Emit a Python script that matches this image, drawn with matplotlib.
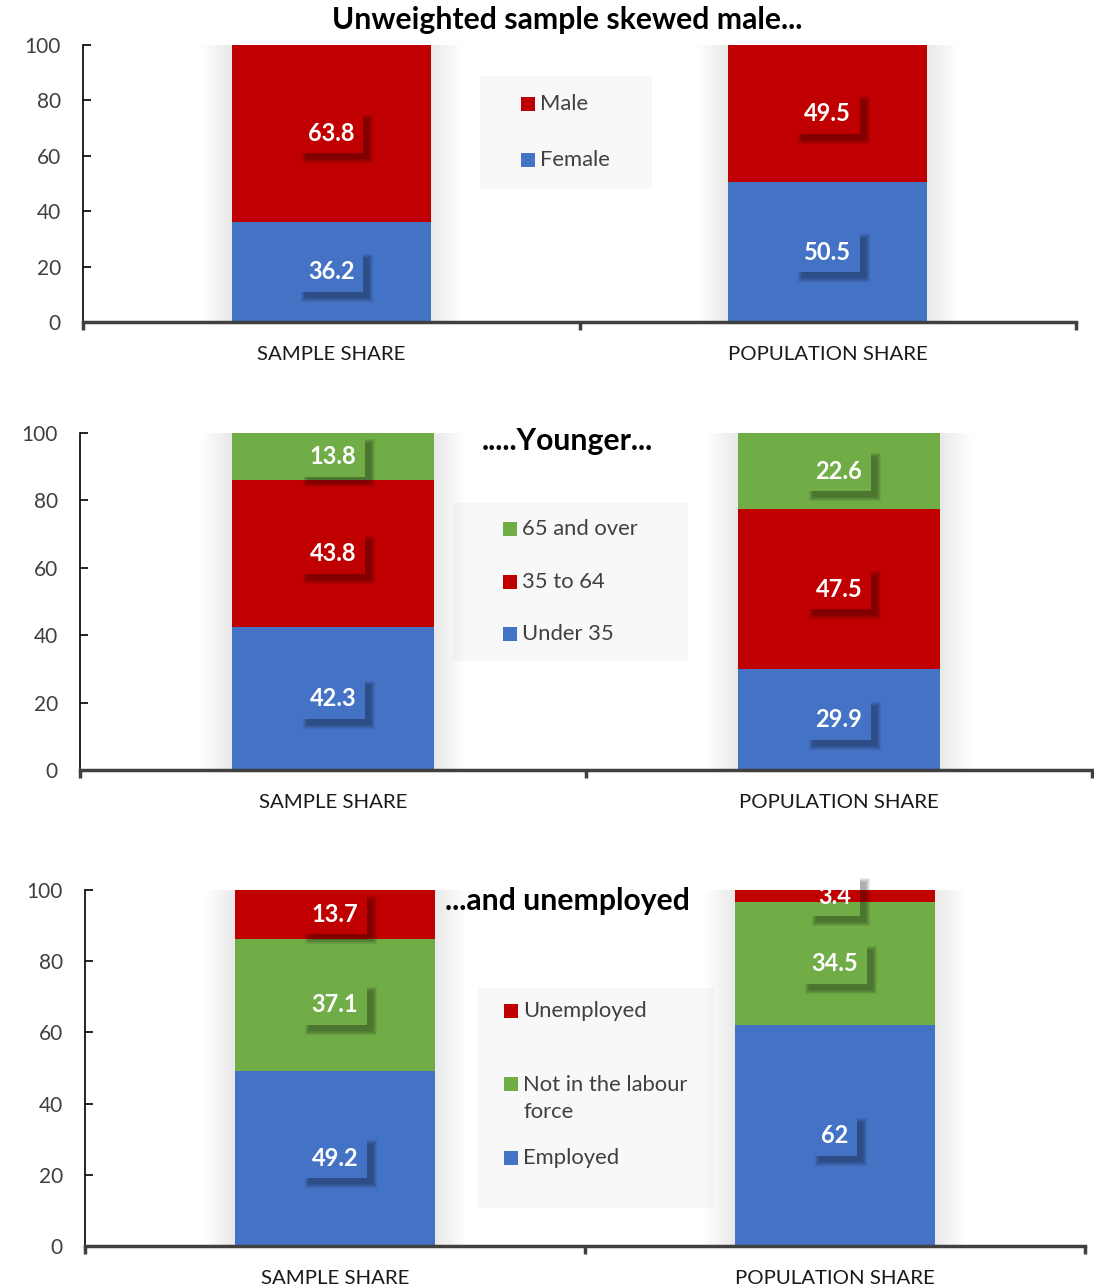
import numpy as np
import matplotlib.pyplot as plt
from matplotlib.patches import Rectangle, Polygon
from matplotlib.transforms import IdentityTransform

plt.rcParams['font.family'] = ['Lato', 'DejaVu Sans']

W, H = 1094, 1286
RED = '#C00000'
BLUE = '#4472C4'
GREEN = '#70AD47'

categories = ['SAMPLE SHARE', 'POPULATION SHARE']

# gender (bottom to top)
gender_names = ['Female', 'Male']
female = [36.2, 50.5]
male = [63.8, 49.5]

# age (bottom to top)
age_names = ['Under 35', '35 to 64', '65 and over']
under_35 = [42.3, 29.9]
age_35_64 = [43.8, 47.5]
age_65_over = [13.8, 22.6]

# labour force status (bottom to top)
labour_names = ['Employed', 'Not in the labour\nforce', 'Unemployed']
employed = [49.2, 62]
not_in_lf = [37.1, 34.5]
unemployed = [13.7, 3.4]

titles = ['Unweighted sample skewed male...', '.....Younger...', '...and unemployed']
yticks = [0, 20, 40, 60, 80, 100]

labels = []


def fx(x):
    return x / W


def fy(y):
    return 1 - y / H


def make_axes(fig, left, right, top, bottom):
    ax = fig.add_axes([fx(left), fy(bottom), (right - left) / W, (bottom - top) / H])
    ax.set_xlim(-0.5, 1.5)
    ax.set_ylim(0, 100)
    for s in ['top', 'right']:
        ax.spines[s].set_visible(False)
    ax.spines['left'].set_color('#000000')
    ax.spines['left'].set_linewidth(1.2)
    ax.spines['bottom'].set_color('#404040')
    ax.spines['bottom'].set_linewidth(2.5)
    ax.spines['bottom'].set_zorder(6)
    ax.set_yticks(yticks)
    ax.tick_params(axis='y', direction='in', length=6, width=1.2, pad=16,
                   labelsize=15, labelcolor='#404040')
    ax.set_xticks([0, 1])
    ax.set_xticklabels(categories)
    ax.set_xticks([-0.5, 0.5, 1.5], minor=True)
    ax.tick_params(axis='x', which='major', length=0, pad=17, labelsize=14.7,
                   labelcolor='#1a1a1a')
    ax.tick_params(axis='x', which='minor', direction='out', length=6, width=2.5,
                   color='#404040')
    ax.patch.set_alpha(0)
    return ax


def stacked(ax, series, colors):
    x = np.arange(len(categories))
    totals = np.sum(series, axis=0)
    # soft glow behind the columns
    for i in range(1, 12):
        ax.bar(x, totals, width=0.4 + i * 0.011, color='black', alpha=0.009,
               linewidth=0, zorder=1)
    bottom = np.zeros(len(categories))
    for vals, c in zip(series, colors):
        ax.bar(x, vals, bottom=bottom, width=0.4, color=c, linewidth=0, zorder=2)
        for xi, b, v in zip(x, bottom, vals):
            t = ax.text(xi, b + v / 2, '{:g}'.format(v), ha='center', va='center',
                        fontsize=17, fontweight='bold', color='white',
                        bbox=dict(boxstyle='square,pad=0.36', fc='none', ec='none'),
                        zorder=5, clip_on=False)
            labels.append(t)
        bottom = bottom + np.array(vals)


def label_shadows(fig):
    # blurred drop shadow below/right of each (transparent) label box
    fig.canvas.draw()
    r = fig.canvas.get_renderer()
    d = 6
    for t in labels:
        bb = t.get_bbox_patch().get_window_extent(r)
        x0, y0, x1, y1 = bb.x0, bb.y0, bb.x1, bb.y1
        for k in range(5):
            pts = [(x1, y1 - d + k), (x1 + d + k, y1 - d + k), (x1 + d + k, y0 - d - k),
                   (x0 + d - k, y0 - d - k), (x0 + d - k, y0), (x1, y0)]
            fig.add_artist(Polygon(pts, closed=True, transform=IdentityTransform(),
                                   fc='black', ec='none', alpha=0.07, zorder=4))


def legend(fig, box, sq_x, names, colors, rows):
    x0, y0, x1, y1 = box
    fig.add_artist(Rectangle((fx(x0), fy(y1)), (x1 - x0) / W, (y1 - y0) / H,
                             transform=fig.transFigure, fc='#f8f8f8', ec='none', zorder=0))
    for name, c, ry in zip(names, colors, rows):
        fig.add_artist(Rectangle((fx(sq_x), fy(ry + 7)), 14 / W, 14 / H,
                                 transform=fig.transFigure, fc=c, ec='none', zorder=5))
        if '\n' in name:
            fig.text(fx(sq_x + 19), fy(ry - 9), name, ha='left', va='top',
                     fontsize=15.8, color='#404040', linespacing=1.45, zorder=5)
        else:
            fig.text(fx(sq_x + 19), fy(ry), name, ha='left', va='center',
                     fontsize=15.8, color='#404040', zorder=5)


fig = plt.figure(figsize=(W / 100, H / 100), dpi=100)

# panel 1: gender
legend(fig, (480, 76, 652, 189), 521, gender_names[::-1], [RED, BLUE], [104, 160])
ax1 = make_axes(fig, 83, 1076, 45, 322)
stacked(ax1, [female, male], [BLUE, RED])
fig.text(fx(567), fy(20), titles[0], ha='center', va='center', fontsize=21.7,
         fontweight='bold', color='black')

# panel 2: age
legend(fig, (453, 503, 688, 661), 503, age_names[::-1],
       [GREEN, RED, BLUE], [529, 582, 634])
ax2 = make_axes(fig, 80, 1092, 433, 770)
stacked(ax2, [under_35, age_35_64, age_65_over], [BLUE, RED, GREEN])
fig.text(fx(567), fy(441), titles[1], ha='center', va='center', fontsize=21.7,
         fontweight='bold', color='black')

# panel 3: labour force status
legend(fig, (478, 988, 714, 1208), 504, labour_names[::-1], [RED, GREEN, BLUE],
       [1011, 1084, 1158])
ax3 = make_axes(fig, 85, 1085, 890, 1246)
stacked(ax3, [employed, not_in_lf, unemployed], [BLUE, GREEN, RED])
fig.text(fx(567), fy(901), titles[2], ha='center', va='center', fontsize=21.7,
         fontweight='bold', color='black')

label_shadows(fig)

plt.savefig('out.png', dpi=100)
